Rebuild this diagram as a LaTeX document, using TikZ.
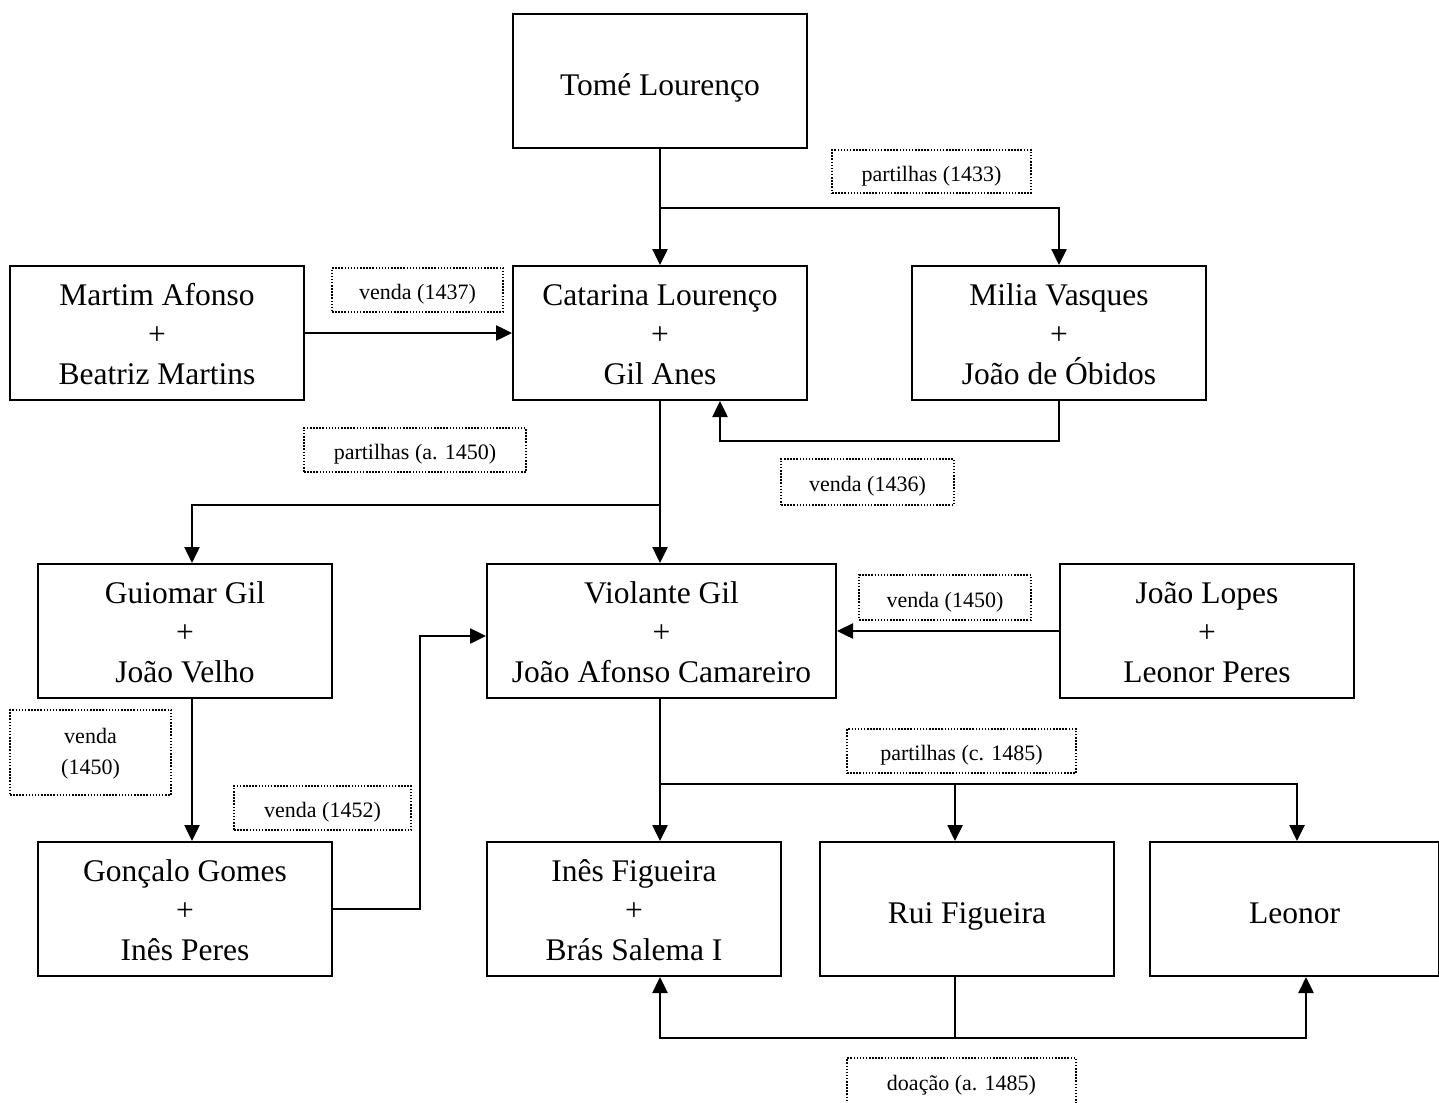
\documentclass[tikz,border=0pt]{standalone}
\usepackage{fontspec}
\setmainfont{Liberation Serif}
\usetikzlibrary{arrows.meta}
% centred stack of lines, lowered by #1 without changing its size
\newcommand\cellstack[2]{\raisebox{-#1}[\height][\depth]{\begin{tabular}{@{}c@{}}#2\end{tabular}}}
\begin{document}
\begin{tikzpicture}[x=1pt,y=-1pt,
  person/.style={draw,line width=2pt,rectangle,minimum width=294pt,minimum height=134pt,
    inner sep=0pt,font=\fontsize{31.5}{39.5}\selectfont},
  deal/.style={draw,line width=1.5pt,dash pattern=on 1.5pt off 1.6pt,rectangle,inner sep=0pt,
    font=\fontsize{22}{31.5}\selectfont},
  link/.style={line width=2.5pt},
  flow/.style={line width=2.5pt,-{Triangle[width=15pt,length=16pt]}},
  line join=miter]
\useasboundingbox (0,0) rectangle (1439,1102);
\fill[white] (0,0) rectangle (1439,1102);

% family members
\node[person] (tome) at (660,81) {\cellstack{6.6pt}{Tomé Lourenço}};
\node[person] (martim) at (157,333) {\cellstack{3.6pt}{Martim Afonso\\+\\Beatriz Martins}};
\node[person] (catarina) at (660,333) {\cellstack{3.6pt}{Catarina Lourenço\\+\\Gil Anes}};
\node[person] (milia) at (1059,333) {\cellstack{3.6pt}{Milia Vasques\\+\\João de Óbidos}};
\node[person] (guiomar) at (185,631) {\cellstack{3.6pt}{Guiomar Gil\\+\\João Velho}};
\node[person,minimum width=349pt] (violante) at (661.5,631) {\cellstack{3.6pt}{Violante Gil\\+\\João Afonso Camareiro}};
\node[person] (lopes) at (1207,631) {\cellstack{3.6pt}{João Lopes\\+\\Leonor Peres}};
\node[person] (goncalo) at (185,909) {\cellstack{3.6pt}{Gonçalo Gomes\\+\\Inês Peres}};
\node[person] (ines) at (634,909) {\cellstack{3.6pt}{Inês Figueira\\+\\Brás Salema I}};
\node[person] (rui) at (967,909) {\cellstack{6.6pt}{Rui Figueira}};
\node[person,minimum width=289pt] (leonor) at (1294.5,909) {\cellstack{6.6pt}{Leonor}};

% transactions
\node[deal,minimum width=199pt,minimum height=43pt] (p1433) at (931.5,171.5) {\cellstack{3.5pt}{partilhas (1433)}};
\node[deal,minimum width=171pt,minimum height=44pt] (v1437) at (417.5,290) {\cellstack{3.5pt}{venda (1437)}};
\node[deal,minimum width=222pt,minimum height=44pt] (p1450) at (415,450) {\cellstack{3.5pt}{partilhas (a. 1450)}};
\node[deal,minimum width=173pt,minimum height=46pt] (v1436) at (867.5,482) {\cellstack{3.5pt}{venda (1436)}};
\node[deal,minimum width=172pt,minimum height=45pt] (v1450a) at (945,597.5) {\cellstack{3.5pt}{venda (1450)}};
\node[deal,minimum width=161pt,minimum height=85pt] (v1450b) at (90.5,752.5) {\cellstack{0pt}{venda\\(1450)}};
\node[deal,minimum width=177pt,minimum height=44pt] (v1452) at (322.5,808) {\cellstack{3.5pt}{venda (1452)}};
\node[deal,minimum width=229pt,minimum height=44pt] (p1485) at (961.5,751) {\cellstack{3.5pt}{partilhas (c. 1485)}};
\node[deal,minimum width=229pt,minimum height=46pt] (d1485) at (961.5,1081) {\cellstack{3.5pt}{doação (a. 1485)}};

% connectors
\draw[flow] (tome.south) -- (catarina.north);
\draw[flow] (tome.south |- 0,208) -| (milia.north);
\draw[flow] (martim.east) -- (catarina.west);
\draw[flow] (milia.south) |- (720,441) -- ([xshift=60pt]catarina.south);
\draw[flow] (catarina.south) -- (catarina.south |- violante.north);
\draw[flow] (catarina.south |- 0,505) -| ([xshift=7pt]guiomar.north);
\draw[flow] (lopes.west) -- (violante.east |- lopes.west);
\draw[flow] ([xshift=7pt]guiomar.south) -- ([xshift=7pt]goncalo.north);
\draw[flow] (goncalo.east) -| (420,636) -- (violante.west |- 0,636);
\draw[flow] (violante.south -| 660,0) -- (ines.north -| 660,0);
\draw[flow] (660,784) -| ([xshift=-12pt]rui.north);
\draw[flow] ([xshift=-12pt]rui.north |- 0,784) -| ([xshift=2.5pt]leonor.north);
\draw[link] ([xshift=-12pt]rui.south) -- ([xshift=-12pt]rui.south |- 0,1038);
\draw[flow] ([xshift=-12pt]rui.south |- 0,1038) -| (ines.south -| 660,0);
\draw[flow] ([xshift=-12pt]rui.south |- 0,1038) -| ([xshift=11.5pt]leonor.south);
\end{tikzpicture}
\end{document}
